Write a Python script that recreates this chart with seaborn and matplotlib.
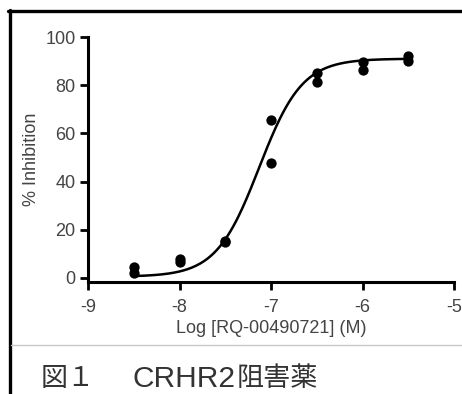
import numpy as np
import pandas as pd
import matplotlib
matplotlib.use("Agg")
import matplotlib.pyplot as plt
import seaborn as sns
from matplotlib.lines import Line2D

# measured points (log M, % inhibition), duplicates per concentration
log_conc = [-8.5, -8.5, -8.0, -8.0, -7.5, -7.5, -7.0, -7.0, -6.5, -6.5, -6.0, -6.0, -5.5, -5.5]
inhibition = [4.5, 2.0, 8.0, 6.5, 15.0, 15.5, 65.5, 47.5, 85.0, 81.5, 89.5, 86.5, 92.0, 90.0]

# fitted 4PL curve parameters
fit_bottom = 0.5
fit_top = 91.0
fit_log_ic50 = -7.13
fit_hill = 1.85

x_ticks = [-9, -8, -7, -6, -5]
y_ticks = [0, 20, 40, 60, 80, 100]

df = pd.DataFrame({"x": log_conc, "y": inhibition})
xs = np.linspace(-8.5, -5.5, 200)
curve = pd.DataFrame({
    "x": xs,
    "y": fit_bottom + (fit_top - fit_bottom) / (1 + 10 ** ((fit_log_ic50 - xs) * fit_hill)),
})

sns.set_style("ticks")
plt.rcParams["font.family"] = ["Liberation Sans", "DejaVu Sans"]

W, H = 462, 394
fig = plt.figure(figsize=(W / 100, H / 100), dpi=100)
ax = fig.add_axes([88 / W, 1 - 282 / H, (454 - 88) / W, (282 - 37) / H])

sns.lineplot(data=curve, x="x", y="y", ax=ax, color="black", linewidth=1.8)
sns.scatterplot(data=df, x="x", y="y", ax=ax, color="black", s=55,
                edgecolor="black", linewidth=0, zorder=3)

ax.set_xlim(-9, -5)
ax.set_ylim(-1.7, 100)
ax.set_xticks(x_ticks)
ax.set_yticks(y_ticks)
ax.set_xticklabels([str(t) for t in x_ticks])
ax.set_yticklabels([str(t) for t in y_ticks])
ax.tick_params(axis="both", direction="out", length=6, width=2, color="black",
               labelsize=13, labelcolor="#444444", pad=3,
               bottom=True, left=True)
ax.tick_params(axis="x", pad=6)
for side in ["top", "right"]:
    ax.spines[side].set_visible(False)
for side in ["left", "bottom"]:
    ax.spines[side].set_linewidth(2.2)
    ax.spines[side].set_color("black")

ax.set_xlabel("Log [RQ-00490721] (M)", fontsize=13, color="#444444", labelpad=3)
ax.set_ylabel("% Inhibition", fontsize=13, color="#444444", labelpad=4)

# outer frame, separator and caption
fig.add_artist(Line2D([9.5 / W, 9.5 / W], [0, 1 - 10 / H], color="black", linewidth=2.4))
fig.add_artist(Line2D([8 / W, 1], [1 - 11 / H, 1 - 11 / H], color="black", linewidth=2.4))
fig.add_artist(Line2D([11 / W, 1], [1 - 345 / H, 1 - 345 / H], color="#c8c8c8", linewidth=1))
cjk = ["Noto Sans CJK JP", "DejaVu Sans"]
fig.text(41 / W, 1 - 386 / H, "図１", fontsize=19.5, color="#333333",
         va="baseline", ha="left", family=cjk)
fig.text(132 / W, 1 - 387 / H, "CRHR2", fontsize=21.5, color="#333333",
         va="baseline", ha="left", family=["Liberation Sans"])
fig.text(237 / W, 1 - 386 / H, "阻害薬", fontsize=19.5, color="#333333",
         va="baseline", ha="left", family=cjk)

fig.savefig("out.png", dpi=100)
